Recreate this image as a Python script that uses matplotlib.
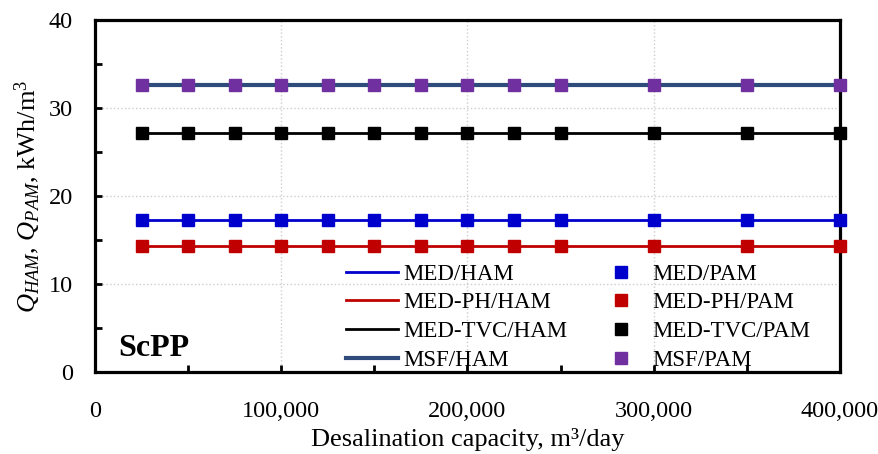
import numpy as np
import matplotlib
matplotlib.use("Agg")
import matplotlib.pyplot as plt
from matplotlib.ticker import MultipleLocator, FuncFormatter

plt.rcParams['font.family'] = 'Liberation Serif'
plt.rcParams['mathtext.fontset'] = 'custom'
plt.rcParams['mathtext.rm'] = 'Liberation Serif'
plt.rcParams['mathtext.it'] = 'Liberation Serif:italic'

# capacita' (m3/day)
capacity = [25000, 50000, 75000, 100000, 125000, 150000, 175000, 200000,
            225000, 250000, 300000, 350000, 400000]

# consumo specifico (kWh/m3), costante con la capacita'
med = [17.3] * len(capacity)
med_ph = [14.3] * len(capacity)
med_tvc = [27.2] * len(capacity)
msf = [32.6] * len(capacity)

serie = [
    ('MED', med, '#0000CC', 2.0),
    ('MED-PH', med_ph, '#C00000', 2.0),
    ('MED-TVC', med_tvc, '#000000', 2.0),
    ('MSF', msf, '#2F4B7C', 3.0),
]
colori_pam = ['#0000CC', '#C00000', '#000000', '#7030A0']

fig = plt.figure(figsize=(8.79, 4.54), dpi=100)
ax = fig.add_axes([95/879, 1-372/454, (840-95)/879, (372-20)/454])

linee = []
for nome, y, c, lw in serie:
    l, = ax.plot(capacity, y, color=c, lw=lw, label=nome + '/HAM', zorder=3)
    linee.append(l)
punti = []
for (nome, y, c, lw), cp in zip(serie, colori_pam):
    p, = ax.plot(capacity, y, ls='none', marker='s', ms=9, color=cp,
                 mec=cp, label=nome + '/PAM', zorder=4, clip_on=False)
    punti.append(p)

ax.set_xlim(0, 400000)
ax.set_ylim(0, 40)
ax.xaxis.set_major_locator(MultipleLocator(100000))
ax.xaxis.set_minor_locator(MultipleLocator(50000))
ax.yaxis.set_major_locator(MultipleLocator(10))
ax.yaxis.set_minor_locator(MultipleLocator(5))
ax.xaxis.set_major_formatter(FuncFormatter(lambda v, pos: f"{int(v):,}"))

ax.tick_params(which='both', direction='in', length=5, width=2, labelsize=17.5,
               top=False, right=False)
ax.tick_params(axis='x', which='major', pad=21)
ax.tick_params(axis='y', which='major', pad=16)
for s in ax.spines.values():
    s.set_linewidth(2.3)

ax.grid(True, which='major', ls=':', color='#CCCCCC', lw=1)
ax.set_axisbelow(True)

ax.set_xlabel('Desalination capacity, m³/day', fontsize=19, labelpad=4)
ax.set_ylabel(r'$Q_{HAM}$, $Q_{PAM}$, kWh/m$^3$', fontsize=19, labelpad=4)

ax.text(0.031, 0.025, 'ScPP', transform=ax.transAxes, fontsize=23,
        fontweight='bold', ha='left', va='bottom')

leg = ax.legend(linee + punti, [h.get_label() for h in linee + punti],
                ncol=2, frameon=False, fontsize=16.5, handlelength=2.3,
                handletextpad=0.2, columnspacing=1.2, labelspacing=0.33,
                loc='lower left', bbox_to_anchor=(0.318, -0.035),
                borderaxespad=0.2)

fig.savefig('out.png', dpi=100)
